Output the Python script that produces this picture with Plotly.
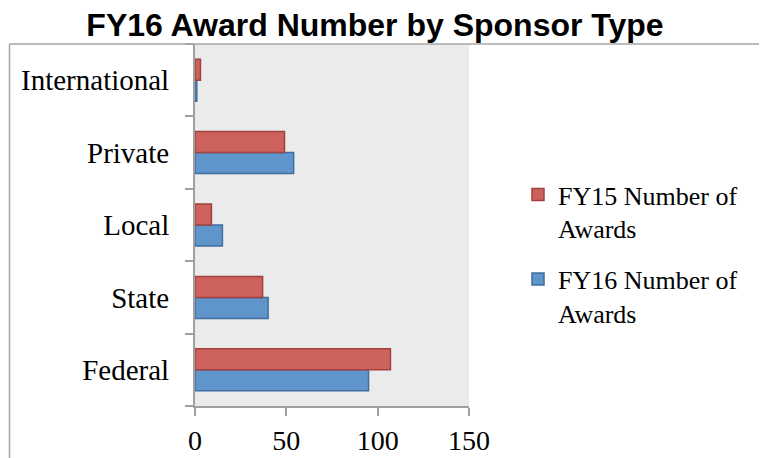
import plotly.graph_objects as go

categories = ["Federal", "State", "Local", "Private", "International"]
fy15_awards = [107, 37, 9, 49, 3]
fy16_awards = [95, 40, 15, 54, 1]
x_ticks = [0, 50, 100, 150]

# the page body adds an 8px margin, so the figure is drawn 8px smaller
# and all layout pixels below are page pixels shifted by OFF
OFF = 8
W, H = 767 - OFF, 458 - OFF
L, R, T, B = 195 - OFF, 469 - OFF, 44 - OFF, 406 - OFF  # plot area


def px(x):
    return (x - OFF - L) / (R - L)


def py(y):
    return (B - (y - OFF)) / (B - T)


serif = "Liberation Serif"

fig = go.Figure()
fig.add_trace(go.Bar(
    y=categories, x=fy16_awards, orientation="h", name="FY16 Number of<br>Awards",
    legendgroup="fy16", legendrank=2,
    marker={"color": "#6095CB", "line": {"color": "#3E6E9E", "width": 1.5}},
))
fig.add_trace(go.Bar(
    y=categories, x=fy15_awards, orientation="h", name="FY15 Number of<br>Awards",
    legendgroup="fy15", legendrank=1,
    marker={"color": "#CD625D", "line": {"color": "#A2413E", "width": 1.5}},
))

# chart frame (left and top edges visible in the crop)
fig.add_shape(type="line", xref="paper", yref="paper",
              x0=px(9.5), y0=py(470), x1=px(9.5), y1=py(44),
              line={"color": "#A6A6A6", "width": 1.5})
fig.add_shape(type="line", xref="paper", yref="paper",
              x0=px(9.5), y0=py(44), x1=px(780), y1=py(44),
              line={"color": "#A6A6A6", "width": 1.5})

fig.update_layout(
    width=W, height=H,
    margin={"l": L, "r": W - R, "t": T, "b": H - B, "autoexpand": False},
    paper_bgcolor="white", plot_bgcolor="#EBEBEB",
    font={"family": serif, "size": 26, "color": "black"},
    barmode="group", bargap=0.42, bargroupgap=0,
    title={"text": "<b>FY16 Award Number by Sponsor Type</b>",
           "font": {"family": "Liberation Sans", "size": 32, "color": "black"},
           "xref": "container", "x": (375 - OFF) / W, "xanchor": "center",
           "yref": "container", "y": 1 - (25 - OFF) / H, "yanchor": "middle"},
    xaxis={"range": [0, 150], "tickvals": x_ticks, "showgrid": False, "zeroline": False,
           "showline": True, "linecolor": "#A0A0A0", "linewidth": 2,
           "ticks": "outside", "ticklen": 8, "tickwidth": 2, "tickcolor": "#A0A0A0",
           "tickfont": {"family": serif, "size": 28, "color": "black"},
           "automargin": False, "fixedrange": True},
    yaxis={"categoryorder": "array", "categoryarray": categories, "showgrid": False,
           "showline": True, "linecolor": "#A0A0A0", "linewidth": 2,
           "ticks": "outside", "ticklen": 8, "tickwidth": 2, "tickcolor": "#A0A0A0",
           "tickson": "boundaries", "ticklabelstandoff": 18,
           "tickfont": {"family": serif, "size": 29, "color": "black"},
           "automargin": False, "fixedrange": True},
    legend={"x": px(518), "y": py(171), "xanchor": "left", "yanchor": "top",
            "traceorder": "grouped", "valign": "top",
            "font": {"family": serif, "size": 26, "color": "black"},
            "itemwidth": 30, "tracegroupgap": 14, "bgcolor": "rgba(0,0,0,0)"},
    showlegend=True,
)

fig.write_html("out.html")
